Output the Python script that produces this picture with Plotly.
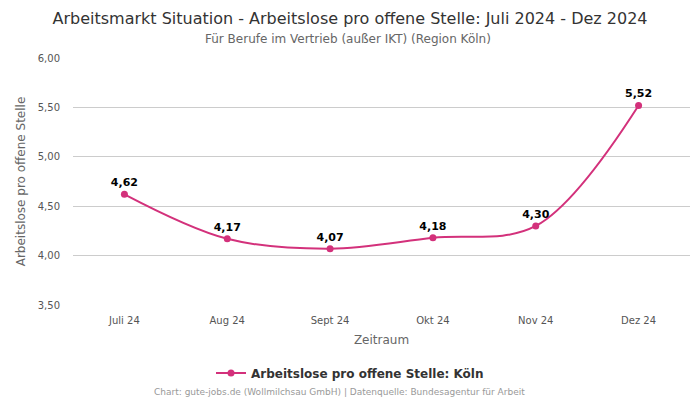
import plotly.graph_objects as go

months = ["Juli 24", "Aug 24", "Sept 24", "Okt 24", "Nov 24", "Dez 24"]
values = [4.62, 4.17, 4.07, 4.18, 4.30, 5.52]
labels = ["4,62", "4,17", "4,07", "4,18", "4,30", "5,52"]
y_ticks = [3.5, 4.0, 4.5, 5.0, 5.5, 6.0]
y_tick_text = ["3,50", "4,00", "4,50", "5,00", "5,50", "6,00"]

color = "#d3317b"
font = "DejaVu Sans"

fig = go.Figure()
fig.add_trace(go.Scatter(
    x=months, y=values, mode="lines+markers+text",
    name="Arbeitslose pro offene Stelle: Köln",
    line=dict(color=color, width=2, shape="spline", smoothing=1.0),
    marker=dict(color=color, size=7),
    text=labels, textposition="top center",
    textfont=dict(family=font, size=11, color="#000000", weight="bold"),
))

fig.update_layout(
    width=700, height=400,
    paper_bgcolor="white", plot_bgcolor="white",
    font=dict(family=font, color="#555555"),
    separators=",.",
    margin=dict(l=73, r=10, t=58, b=95, autoexpand=False),
    title=dict(
        text="Arbeitsmarkt Situation - Arbeitslose pro offene Stelle: Juli 2024 - Dez 2024",
        x=0.5, xanchor="center", y=0.955, yanchor="middle",
        font=dict(family=font, size=16, color="#333333"),
    ),
    xaxis=dict(
        title=dict(text="Zeitraum", font=dict(size=12, color="#666666"), standoff=10),
        tickfont=dict(size=10, color="#555555"),
        showgrid=False, showline=False, zeroline=False,
        range=[-0.5, 5.5], ticks="", ticklabelstandoff=8, automargin=False,
    ),
    yaxis=dict(
        title=dict(text="Arbeitslose pro offene Stelle", font=dict(size=12, color="#666666"), standoff=9),
        tickvals=y_ticks, ticktext=y_tick_text,
        tickfont=dict(size=10, color="#555555"),
        range=[3.5, 6.0], showgrid=True, gridcolor="#cccccc", zeroline=False,
        showline=False, ticks="", ticklabelstandoff=12, automargin=False,
    ),
    showlegend=True,
    legend=dict(
        orientation="h", x=0.5, xanchor="center", xref="container",
        y=0.0675, yanchor="middle", yref="container",
        font=dict(size=12, color="#333333", weight="bold"),
        itemwidth=30,
    ),
    annotations=[
        dict(text="Für Berufe im Vertrieb (außer IKT) (Region Köln)",
             xref="paper", yref="paper", x=0.4457, y=1.0, yanchor="middle",
             xanchor="center", yshift=19, showarrow=False,
             font=dict(family=font, size=12, color="#666666")),
        dict(text="Chart: gute-jobs.de (Wollmilchsau GmbH) | Datenquelle: Bundesagentur für Arbeit",
             xref="paper", yref="paper", x=0.4327, y=0, yanchor="middle", xanchor="center",
             yshift=-87, showarrow=False,
             font=dict(family=font, size=9, color="#999999")),
    ],
)

fig.write_html(
    "out.html",
    config={"displayModeBar": False},
    post_script="document.body.style.margin='0';document.body.style.padding='0';document.body.style.overflow='hidden';",
)
